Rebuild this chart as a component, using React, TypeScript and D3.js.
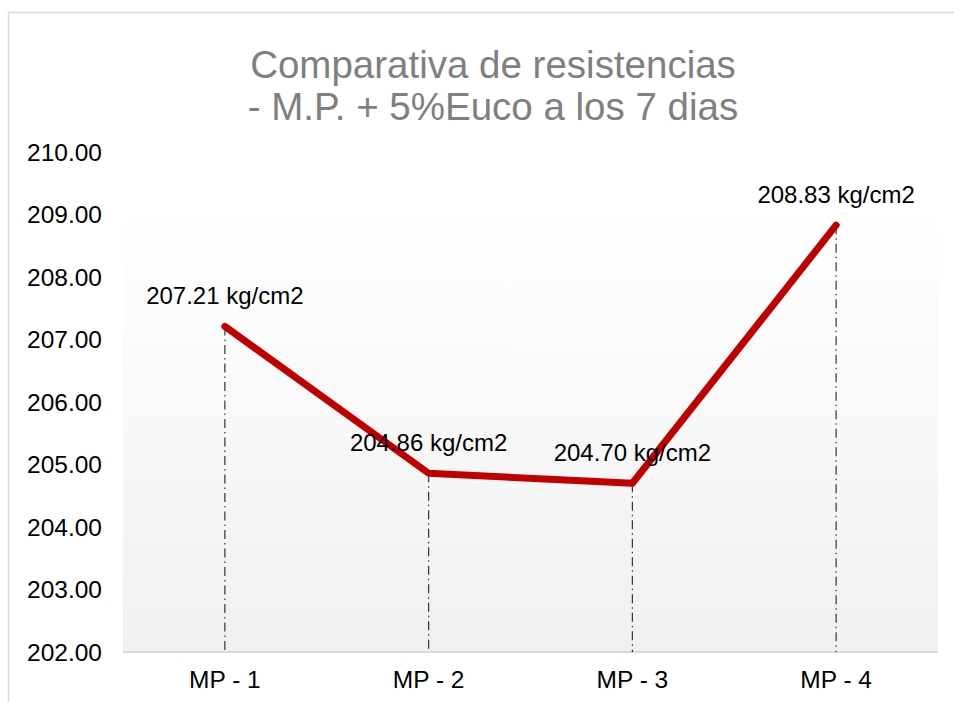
import { useRef, useEffect } from "react";
import * as d3 from "d3";

// values
const categories = ["MP - 1", "MP - 2", "MP - 3", "MP - 4"];
const values = [207.21, 204.86, 204.7, 208.83];
const yTicks = [202, 203, 204, 205, 206, 207, 208, 209, 210];
const titleLines = ["Comparativa de resistencias", "- M.P. + 5%Euco a los 7 dias"];

const App = () => {
  const svgRef = useRef<SVGSVGElement>(null);
  const width = 954;
  const height = 702;
  const font = "Arial, 'Liberation Sans', sans-serif";

  useEffect(() => {
    const svg = d3.select(svgRef.current);
    svg.selectAll("*").remove();

    const left = 123;
    const right = 938;
    const top = 152;
    const bottom = 652;

    const x = d3.scaleBand().domain(categories).range([left, right]).padding(0);
    const y = d3.scaleLinear().domain([202, 210]).range([bottom, top]);
    const cx = (d: string) => (x(d) as number) + x.bandwidth() / 2;

    // chart frame (only top and left edges visible)
    svg.append("line")
      .attr("x1", 8.5).attr("x2", width).attr("y1", 12.5).attr("y2", 12.5)
      .attr("stroke", "#d9d9d9").attr("stroke-width", 1.5);
    svg.append("line")
      .attr("x1", 8.5).attr("x2", 8.5).attr("y1", 12.5).attr("y2", height)
      .attr("stroke", "#d9d9d9").attr("stroke-width", 1.5);

    // plot background gradient
    const grad = svg.append("defs").append("linearGradient")
      .attr("id", "bg").attr("x1", 0).attr("y1", 0).attr("x2", 0).attr("y2", 1);
    grad.append("stop").attr("offset", "0%").attr("stop-color", "#ffffff");
    grad.append("stop").attr("offset", "100%").attr("stop-color", "#f0f0f0");
    svg.append("rect")
      .attr("x", left).attr("y", y(209))
      .attr("width", right - left).attr("height", bottom - y(209))
      .attr("fill", "url(#bg)");

    // title
    svg.append("text")
      .attr("x", 493).attr("y", 78)
      .attr("text-anchor", "middle")
      .attr("font-family", font).attr("font-size", 38.5)
      .attr("fill", "#7f7f7f")
      .selectAll("tspan")
      .data(titleLines)
      .enter()
      .append("tspan")
      .attr("x", 493)
      .attr("dy", (_d, i) => (i === 0 ? 0 : 42))
      .text(d => d);

    // y axis labels
    svg.append("g")
      .selectAll("text")
      .data(yTicks)
      .enter()
      .append("text")
      .attr("x", 102)
      .attr("y", d => y(d))
      .attr("dy", "0.35em")
      .attr("text-anchor", "end")
      .attr("font-family", font).attr("font-size", 24.5)
      .attr("fill", "#000")
      .text(d => d.toFixed(2));

    // x axis line
    svg.append("line")
      .attr("x1", left).attr("x2", right)
      .attr("y1", bottom).attr("y2", bottom)
      .attr("stroke", "#d9d9d9").attr("stroke-width", 2);

    // x labels
    svg.append("g")
      .selectAll("text")
      .data(categories)
      .enter()
      .append("text")
      .attr("x", d => cx(d))
      .attr("y", 688)
      .attr("text-anchor", "middle")
      .attr("font-family", font).attr("font-size", 24.5)
      .attr("fill", "#000")
      .text(d => d);

    const pts = categories.map((c, i) => ({ c, v: values[i] }));

    // drop lines
    svg.append("g")
      .selectAll("line")
      .data(pts)
      .enter()
      .append("line")
      .attr("x1", d => cx(d.c)).attr("x2", d => cx(d.c))
      .attr("y1", d => y(d.v)).attr("y2", bottom)
      .attr("stroke", "#333").attr("stroke-width", 1.2)
      .attr("stroke-dasharray", "9,4,1.5,4");

    // series line
    const line = d3.line<{ c: string; v: number }>()
      .x(d => cx(d.c))
      .y(d => y(d.v));
    svg.append("path")
      .datum(pts)
      .attr("d", line)
      .attr("fill", "none")
      .attr("stroke", "#c00000")
      .attr("stroke-width", 7)
      .attr("stroke-linejoin", "round")
      .attr("stroke-linecap", "round");

    // data labels
    svg.append("g")
      .selectAll("text")
      .data(pts)
      .enter()
      .append("text")
      .attr("x", d => cx(d.c))
      .attr("y", d => y(d.v) - 31)
      .attr("dy", "0.35em")
      .attr("text-anchor", "middle")
      .attr("font-family", font).attr("font-size", 24)
      .attr("fill", "#000")
      .text(d => `${d.v.toFixed(2)} kg/cm2`);
  }, []);

  return (
    <svg
      ref={svgRef}
      width={width}
      height={height}
      style={{ position: "absolute", left: 0, top: 0, background: "#fff" }}
    ></svg>
  );
};

export default App;
